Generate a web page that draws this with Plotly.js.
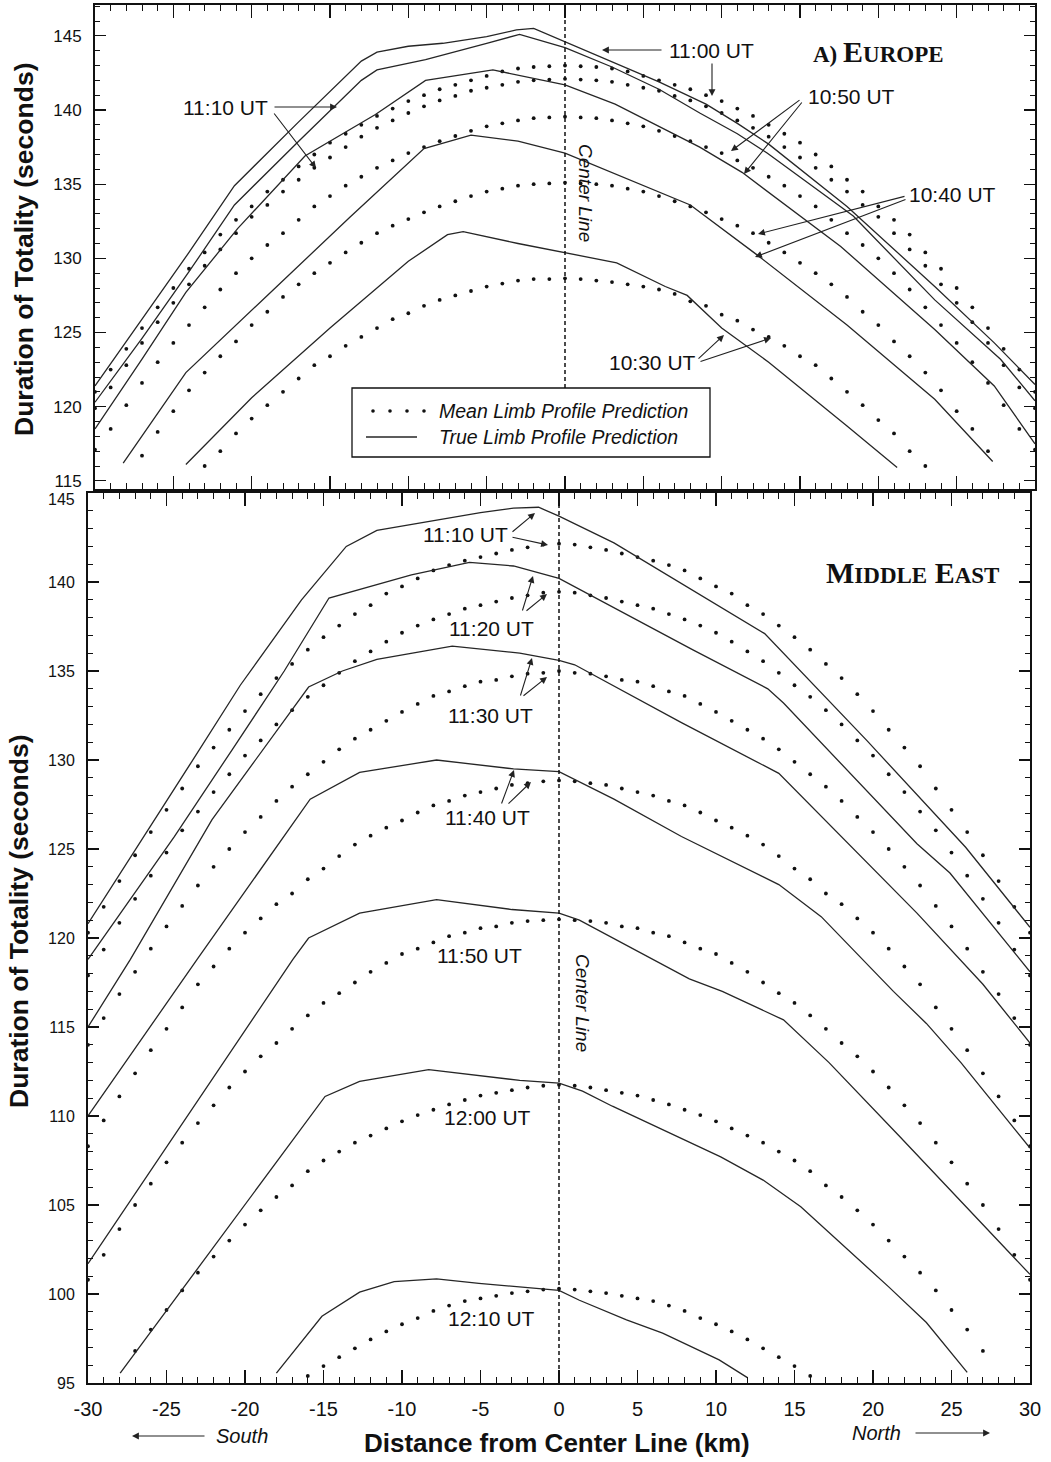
<!DOCTYPE html>
<html><head><meta charset="utf-8">
<script src="https://cdn.plot.ly/plotly-3.0.1.min.js"></script>
<style>html,body{margin:0;padding:0;background:#fff}#chart{width:1051px;height:1462px}</style>
</head><body><div id="chart"></div>
<script>
// ---------------- DATA ----------------
const KM = [-30,-29,-28,-27,-26,-25,-24,-23,-22,-21,-20,-19,-18,-17,-16,-15,-14,-13,-12,-11,-10,-9,-8,-7,-6,-5,-4,-3,-2,-1,0,1,2,3,4,5,6,7,8,9,10,11,12,13,14,15,16,17,18,19,20,21,22,23,24,25,26,27,28,29,30];

// Europe - mean limb profile predictions (seconds), one value per km
const eu1100Mean = [121.0,122.5,123.9,125.3,126.7,128.0,129.3,130.4,131.6,132.6,133.5,134.5,135.3,136.2,137.0,137.8,138.4,139.0,139.6,140.1,140.6,141.0,141.4,141.7,142.0,142.3,142.6,142.8,142.9,142.95,143.0,142.95,142.9,142.8,142.6,142.3,142.0,141.7,141.4,141.0,140.6,140.1,139.6,139.0,138.4,137.8,137.0,136.2,135.3,134.5,133.5,132.6,131.6,130.4,129.3,128.0,126.7,125.3,123.9,122.5,121.0];
const eu1110Mean = [119.9,121.3,122.8,124.3,125.7,127.0,128.25,129.5,130.6,131.7,132.8,133.6,134.5,135.3,136.1,136.8,137.5,138.2,138.8,139.3,139.8,140.25,140.65,140.95,141.3,141.5,141.7,141.9,142.0,142.05,142.1,142.05,142.0,141.9,141.7,141.5,141.3,140.95,140.65,140.25,139.8,139.3,138.8,138.2,137.5,136.8,136.1,135.3,134.5,133.6,132.8,131.7,130.6,129.5,128.25,127.0,125.7,124.3,122.8,121.3,119.9];
const eu1050Mean = [117.1,118.5,120.1,121.6,123.0,124.3,125.5,126.7,127.9,129.0,130.0,130.9,131.7,132.6,133.5,134.2,134.9,135.5,136.1,136.6,137.1,137.5,137.9,138.25,138.6,138.9,139.1,139.3,139.45,139.5,139.55,139.5,139.45,139.3,139.1,138.9,138.6,138.25,137.9,137.5,137.1,136.6,136.1,135.5,134.9,134.2,133.5,132.6,131.7,130.9,130.0,129.0,127.9,126.7,125.5,124.3,123.0,121.6,120.1,118.5,117.1];
const eu1040Mean = [null,null,null,116.7,118.3,119.7,121.1,122.3,123.4,124.4,125.5,126.4,127.4,128.25,129.0,129.7,130.4,131.05,131.7,132.2,132.65,133.1,133.5,133.85,134.2,134.5,134.7,134.9,135.0,135.05,135.1,135.05,135.0,134.9,134.7,134.5,134.2,133.85,133.5,133.1,132.65,132.2,131.7,131.05,130.4,129.7,129.0,128.25,127.4,126.4,125.5,124.4,123.4,122.3,121.1,119.7,118.5,117.0,null,null,null];
const eu1030Mean = [null,null,null,null,null,null,null,116.0,117.0,118.2,119.2,120.1,121.0,121.9,122.8,123.4,124.1,124.7,125.3,125.9,126.3,126.8,127.2,127.5,127.8,128.1,128.3,128.5,128.6,128.6,128.65,128.6,128.5,128.4,128.25,128.1,127.9,127.6,127.1,126.8,126.2,125.8,125.2,124.7,124.1,123.4,122.8,121.9,121.0,120.1,119.1,118.2,117.0,116.0,null,null,null,null,null,null,null];

// Europe - true limb profile predictions (vertices)
const eu1100TrueKm  = [-30,-27,-24,-21.1,-17,-13,-12,-10,-7.8,-5,-3.1,-2,0,3,6,9,11,13,18,23.6,27.4,30];
const eu1100TrueSec = [121.4,125.9,130.4,134.9,139.2,143.3,143.9,144.3,144.5,144.95,145.4,145.5,144.6,143.3,141.9,140.4,139.1,137.7,133.5,128.1,124.3,121.5];
const eu1110TrueKm  = [-30,-27,-24,-21.1,-17,-13,-12,-8.9,-5,-2.9,0,3,6,8.6,11,12.9,18.4,23.6,27.8,30];
const eu1110TrueSec = [120.3,124.6,129.1,133.6,137.9,142.0,142.7,143.4,144.5,145.1,144.2,142.9,141.4,139.8,138.4,137.1,132.85,127.2,123.2,120.4];
const eu1050TrueKm  = [-30,-27,-24.2,-20.9,-16.6,-12.1,-8.9,-4.6,0,3.2,8.6,11.3,17.6,23.6,27.4,30];
const eu1050TrueSec = [118.5,123.2,127.7,132.0,136.9,139.7,142.0,142.7,141.7,140.4,137.5,135.8,130.8,125.2,121.4,117.5];
const eu1040TrueKm  = [-28.2,-24.2,-19,-13.7,-9,-6,-3,0,8,12.3,18,23.6,27.3];
const eu1040TrueSec = [116.2,122.3,127.5,132.8,137.4,138.3,137.9,137.1,133.6,130.2,125.5,120.5,116.3];
const eu1030TrueKm  = [-24.2,-20,-15,-10,-7.5,-6.5,-3,0,3.3,6.4,7.8,10,13,18,21.2];
const eu1030TrueSec = [116.1,120.6,125.3,129.8,131.6,131.8,131.0,130.4,129.7,128.1,127.5,125.3,123.0,118.7,115.9];

// Middle East - mean limb profile predictions
const me1110Mean = [120.3,121.75,123.2,124.65,125.95,127.2,128.4,129.65,130.7,131.7,132.75,133.7,134.6,135.4,136.2,136.9,137.55,138.2,138.7,139.35,139.75,140.2,140.65,140.95,141.2,141.4,141.6,141.8,141.95,142.1,142.15,142.1,141.95,141.8,141.6,141.4,141.2,140.95,140.65,140.2,139.75,139.35,138.7,138.2,137.55,136.9,136.2,135.4,134.6,133.7,132.75,131.7,130.7,129.65,128.4,127.2,125.95,124.65,123.2,121.75,120.3];
const me1120Mean = [117.9,119.35,120.85,122.2,123.5,124.8,126.05,127.1,128.2,129.2,130.25,131.1,132.0,132.8,133.55,134.2,134.9,135.55,136.1,136.65,137.15,137.55,137.9,138.2,138.5,138.7,138.9,139.1,139.25,139.4,139.45,139.4,139.25,139.1,138.9,138.7,138.5,138.2,137.9,137.55,137.15,136.65,136.1,135.55,134.9,134.2,133.55,132.8,132.0,131.1,130.25,129.2,128.2,127.1,126.05,124.8,123.5,122.2,120.85,119.35,117.9];
const me1130Mean = [114.0,115.5,116.85,118.1,119.4,120.65,121.8,122.95,124.0,125.0,125.95,126.8,127.7,128.5,129.2,129.9,130.6,131.2,131.7,132.2,132.7,133.15,133.6,133.85,134.15,134.4,134.5,134.7,134.85,134.9,135.0,134.9,134.85,134.7,134.5,134.4,134.15,133.85,133.6,133.15,132.7,132.2,131.7,131.2,130.6,129.9,129.2,128.5,127.7,126.8,125.95,125.0,124.0,122.95,121.8,120.65,119.4,118.1,116.85,115.5,114.0];
const me1140Mean = [108.3,109.75,111.1,112.4,113.7,114.9,116.1,117.4,118.4,119.4,120.3,121.1,121.9,122.5,123.3,123.9,124.6,125.25,125.75,126.2,126.6,127.05,127.45,127.7,128.0,128.2,128.4,128.6,128.7,128.8,128.85,128.8,128.7,128.6,128.4,128.2,128.0,127.7,127.45,127.05,126.6,126.2,125.75,125.25,124.6,123.9,123.3,122.5,121.9,121.1,120.3,119.4,118.4,117.4,116.1,114.9,113.7,112.4,111.1,109.75,108.3];
const me1150Mean = [100.8,102.2,103.65,105.0,106.2,107.4,108.5,109.6,110.6,111.6,112.5,113.35,114.1,114.9,115.65,116.35,116.9,117.5,118.1,118.6,119.1,119.4,119.75,120.1,120.3,120.55,120.65,120.85,120.95,121.0,121.05,121.0,120.95,120.85,120.65,120.55,120.3,120.1,119.75,119.4,119.1,118.6,118.1,117.5,116.9,116.35,115.65,114.9,114.1,113.35,112.5,111.6,110.6,109.6,108.5,107.4,106.2,105.0,103.65,102.2,100.8];
const me1200Mean = [null,null,null,96.8,98.0,99.1,100.2,101.2,102.1,103.0,103.9,104.7,105.45,106.1,106.9,107.5,108.0,108.5,108.9,109.3,109.7,110.05,110.35,110.65,110.9,111.15,111.3,111.45,111.6,111.7,111.75,111.7,111.6,111.45,111.3,111.15,110.9,110.65,110.35,110.05,109.7,109.3,108.9,108.5,108.0,107.5,106.9,106.1,105.45,104.7,103.9,103.0,102.1,101.2,100.2,99.1,98.0,96.8,null,null,null];
const me1210Mean = [null,null,null,null,null,null,null,null,null,null,null,null,null,null,95.4,95.95,96.45,96.95,97.45,97.9,98.3,98.65,99.05,99.35,99.6,99.75,99.9,100.05,100.15,100.25,100.3,100.25,100.15,100.05,99.9,99.75,99.6,99.35,99.05,98.65,98.3,97.9,97.45,96.95,96.45,95.95,95.4,null,null,null,null,null,null,null,null,null,null,null,null,null,null];

// Middle East - true limb profile predictions (vertices)
const me1110TrueKm  = [-30,-26.65,-23.4,-20.3,-16.4,-13.55,-11.6,-5,-2.9,-1.3,0,3.5,9.9,13.1,19.6,25.9,30];
const me1110TrueSec = [120.8,125.4,129.9,134.2,139.0,142.0,142.9,143.9,144.15,144.2,143.7,142.2,138.8,137.1,131.1,125.1,120.6];
const me1120TrueKm  = [-30,-24.5,-20.8,-17.5,-14.65,-9.4,-5.7,-2.9,0,8.5,13.3,14.3,22.8,24.9,30];
const me1120TrueSec = [118.8,125.7,130.6,135.0,139.1,140.4,141.1,140.9,140.2,136.2,134.0,133.2,125.3,123.65,118.1];
const me1130TrueKm  = [-30,-27.3,-22.1,-15.95,-13.8,-11.6,-6.8,-2.5,0,1,7.8,14,22.8,27.0,30];
const me1130TrueSec = [115.0,118.8,126.65,134.1,135.0,135.65,136.4,136.0,135.6,135.35,132.1,129.25,121.4,117.4,114.1];
const me1140TrueKm  = [-30,-23.05,-15.85,-12.7,-7.8,-2.9,0,3.5,7.8,14,16.7,21.3,23.4,25.6,30];
const me1140TrueSec = [110.0,118.8,127.8,129.3,130.0,129.5,129.35,127.8,125.7,123.0,121.2,117.0,115.2,113.0,108.2];
const me1150TrueKm  = [-30,-16.95,-15.95,-12.7,-7.8,-3,0,1.3,8.3,10.4,14.3,17.2,21.7,24.1,30];
const me1150TrueSec = [101.7,118.8,120.0,121.4,122.15,121.6,121.4,121.0,117.7,117.0,115.4,113.0,108.85,106.6,101.1];
const me1200TrueKm  = [-27.95,-14.9,-12.7,-8.3,-2.5,0,1.5,3.4,10.3,13,15.4,21.0,23.4,26.0];
const me1200TrueSec = [95.55,111.1,111.95,112.6,112.0,111.85,111.4,110.55,107.7,106.4,104.9,100.4,98.4,95.6];
const me1210TrueKm  = [-18,-15.1,-12.7,-10.5,-7.8,-5.1,0,1.3,4.3,6.6,10.2,12];
const me1210TrueSec = [95.55,98.75,100.1,100.7,100.85,100.6,100.2,99.65,98.55,97.8,96.3,95.3];

// tick labels
const euTickVals = [115,120,125,130,135,140,145];
const meTickVals = [95,100,105,110,115,120,125,130,135,140];
const meTopTickLabel = '145';
const kmTickVals = [-30,-25,-20,-15,-10,-5,0,5,10,15,20,25,30];
const kmTickText = ['-30','-25','-20','-15','-10','-5','0','5','10','15','20','25','30'];

// ---------------- STYLE / LAYOUT ----------------
const W = 1051, H = 1462;
const SANS = 'Liberation Sans, Arial, Helvetica, sans-serif';
const SERIF = 'Liberation Serif, Times New Roman, serif';
const INK = '#111';

function meanTrace(y, xa, ya){
  return {type:'scatter', mode:'markers', x:KM, y:y, xaxis:xa, yaxis:ya,
    marker:{size:3.8, color:INK}, hoverinfo:'skip', showlegend:false};
}
function trueTrace(x, y, xa, ya){
  return {type:'scatter', mode:'lines', x:x, y:y, xaxis:xa, yaxis:ya,
    line:{color:'#262626', width:1.3}, hoverinfo:'skip', showlegend:false};
}

const data = [
  meanTrace(eu1100Mean,'x','y'), meanTrace(eu1110Mean,'x','y'), meanTrace(eu1050Mean,'x','y'),
  meanTrace(eu1040Mean,'x','y'), meanTrace(eu1030Mean,'x','y'),
  trueTrace(eu1100TrueKm, eu1100TrueSec,'x','y'), trueTrace(eu1110TrueKm, eu1110TrueSec,'x','y'),
  trueTrace(eu1050TrueKm, eu1050TrueSec,'x','y'), trueTrace(eu1040TrueKm, eu1040TrueSec,'x','y'),
  trueTrace(eu1030TrueKm, eu1030TrueSec,'x','y'),
  meanTrace(me1110Mean,'x2','y2'), meanTrace(me1120Mean,'x2','y2'), meanTrace(me1130Mean,'x2','y2'),
  meanTrace(me1140Mean,'x2','y2'), meanTrace(me1150Mean,'x2','y2'), meanTrace(me1200Mean,'x2','y2'),
  meanTrace(me1210Mean,'x2','y2'),
  trueTrace(me1110TrueKm, me1110TrueSec,'x2','y2'), trueTrace(me1120TrueKm, me1120TrueSec,'x2','y2'),
  trueTrace(me1130TrueKm, me1130TrueSec,'x2','y2'), trueTrace(me1140TrueKm, me1140TrueSec,'x2','y2'),
  trueTrace(me1150TrueKm, me1150TrueSec,'x2','y2'), trueTrace(me1200TrueKm, me1200TrueSec,'x2','y2'),
  trueTrace(me1210TrueKm, me1210TrueSec,'x2','y2')
];

function axisBase(extra){
  return Object.assign({
    showgrid:false, zeroline:false, showline:true, linecolor:INK, linewidth:2,
    mirror:'ticks', ticks:'inside', tickcolor:INK, tickwidth:1.2, tick0:0, dtick:5,
    tickfont:{family:SANS, size:17, color:INK}, fixedrange:true
  }, extra);
}

const px = v => v / W;
const py = v => 1 - v / H;

function lab(text, x, y, size, extra){
  return Object.assign({xref:'paper', yref:'paper', x:px(x), y:py(y), text:text, showarrow:false,
    xanchor:'center', yanchor:'middle', font:{family:SANS, size:size, color:INK}}, extra||{});
}
function arr(tx, ty, sx, sy){
  return {xref:'paper', yref:'paper', x:px(tx), y:py(ty), ax:sx-tx, ay:sy-ty, text:'',
    showarrow:true, arrowhead:2, arrowsize:1.25, arrowwidth:1.1, arrowcolor:'#222', standoff:0};
}

const annotations = [
  // Europe
  lab('11:10 UT', 225, 107, 21), arr(337,107,273,107), arr(316,168,273,112),
  lab('11:00 UT', 711, 50, 21), arr(602,50,663,50), arr(712,96,712,62),
  lab('10:50 UT', 851, 96, 21), arr(731,151,801,99), arr(744,174,803,101),
  lab('10:40 UT', 952, 195, 21), arr(758,234,906,196), arr(755,257,907,199),
  lab('10:30 UT', 652, 362, 21), arr(724,335,697,360), arr(771,338,699,362),
  lab('<b><span style="font-size:23px">A) </span>E<span style="font-size:23px">UROPE</span></b>', 878, 52, 30, {font:{family:SERIF,size:30,color:INK}}),
  lab('<i>Center Line</i>', 586, 193, 19, {textangle:90}),
  lab('<i>Mean Limb Profile Prediction</i>', 437, 411, 19.5, {xanchor:'left'}),
  lab('<i>True Limb Profile Prediction</i>', 437, 437, 19.5, {xanchor:'left'}),
  // Middle East
  lab(meTopTickLabel, 77, 500, 16, {xanchor:'right'}),
  lab('<b>M<span style="font-size:23px">IDDLE</span> E<span style="font-size:23px">AST</span></b>', 912, 572, 30, {font:{family:SERIF,size:30,color:INK}}),
  lab('11:10 UT', 465, 535, 21), arr(535,513,511,533), arr(548,545,511,537),
  lab('11:20 UT', 491, 628, 21), arr(533,576,522,612), arr(547,594,525,612),
  lab('11:30 UT', 490, 715, 21), arr(532,658,520,697), arr(547,677,522,697),
  lab('11:40 UT', 487, 817, 21), arr(514,770,501,805), arr(531,782,507,805),
  lab('11:50 UT', 479, 955, 21),
  lab('12:00 UT', 487, 1117, 21),
  lab('12:10 UT', 491, 1318, 21),
  lab('<i>Center Line</i>', 583, 1003, 19, {textangle:90}),
  // axis titles
  lab('<b>Duration of Totality (seconds)</b>', 24, 250, 26.5, {textangle:-90}),
  lab('<b>Duration of Totality (seconds)</b>', 19, 922, 26.5, {textangle:-90}),
  lab('<b>Distance from Center Line (km)</b>', 557, 1443, 26),
  lab('<i>South</i>', 242, 1436, 20),
  arr(132,1436,206,1436),
  lab('<i>North</i>', 876, 1433, 20),
  arr(990,1433,914,1433)
];

const shapes = [
  {type:'line', xref:'x', yref:'paper', x0:0, x1:0, y0:py(388), y1:py(5), line:{color:INK, width:1.5, dash:'4px,3px'}},
  {type:'line', xref:'x2', yref:'paper', x0:0, x1:0, y0:py(1383), y1:py(493), line:{color:INK, width:1.5, dash:'4px,3px'}},
  {type:'rect', xref:'paper', yref:'paper', x0:px(352), x1:px(710), y0:py(457), y1:py(388), fillcolor:'#fff', line:{color:INK, width:1.3}},
  {type:'line', xref:'paper', yref:'paper', x0:px(366), x1:px(417), y0:py(437), y1:py(437), line:{color:'#262626', width:1.3}}
];
[373, 390, 407, 424].forEach(function(cx){
  shapes.push({type:'circle', xref:'paper', yref:'paper', x0:px(cx-1.8), x1:px(cx+1.8), y0:py(411+1.8), y1:py(411-1.8), fillcolor:INK, line:{width:0}});
});

const layout = {
  width:W, height:H, margin:{l:0, r:0, t:0, b:0}, paper_bgcolor:'#fff', plot_bgcolor:'#fff',
  showlegend:false, hovermode:false,
  xaxis: axisBase({domain:[px(95), px(1035)], anchor:'y', range:[-30,30], ticklen:13, showticklabels:false,
    minor:{ticks:'inside', dtick:1, ticklen:6, tickwidth:1, tickcolor:INK}}),
  yaxis: axisBase({domain:[py(489), py(5)], anchor:'x', range:[114.45,147.08], ticklen:11, ticklabelstandoff:8,
    tickmode:'array', tickvals:euTickVals,
    minor:{ticks:'inside', dtick:1, tick0:0, ticklen:5, tickwidth:1, tickcolor:INK}}),
  xaxis2: axisBase({domain:[px(88), px(1030)], anchor:'y2', range:[-30,30], ticklen:13, ticklabelstandoff:7,
    tickmode:'array', tickvals:kmTickVals, ticktext:kmTickText,
    tickfont:{family:SANS, size:20, color:INK},
    minor:{ticks:'inside', dtick:1, tick0:0, ticklen:6, tickwidth:1, tickcolor:INK}}),
  yaxis2: axisBase({domain:[py(1383), py(493)], anchor:'x2', range:[95,145], ticklen:11, ticklabelstandoff:8,
    tickmode:'array', tickvals:meTickVals,
    tickfont:{family:SANS, size:16, color:INK},
    minor:{ticks:'inside', dtick:1, tick0:0, ticklen:5, tickwidth:1, tickcolor:INK}}),
  annotations: annotations,
  shapes: shapes
};

Plotly.newPlot('chart', data, layout, {staticPlot:true, displayModeBar:false});
</script></body></html>
